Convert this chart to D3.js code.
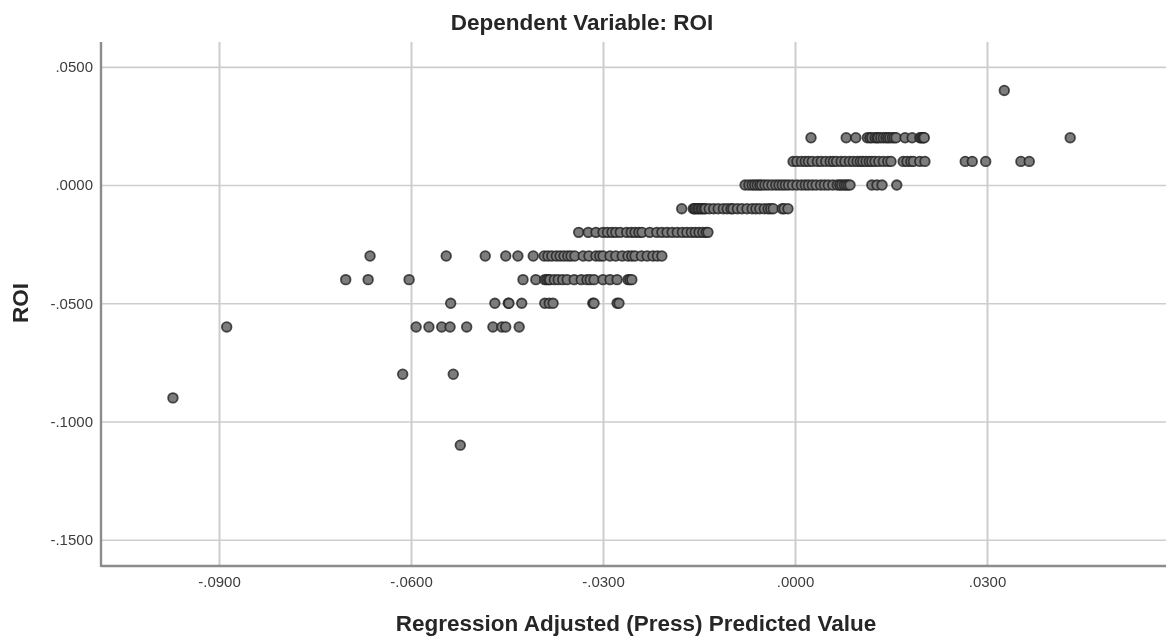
<!DOCTYPE html>
<html>
<head>
<meta charset="utf-8">
<script src="https://cdn.jsdelivr.net/npm/d3@7"></script>
<style>
    html, body { margin: 0; padding: 0; background: #fff; }
    svg { display: block; }
    text { font-family: "Liberation Sans", Arial, sans-serif; fill: #262626; }
</style>
</head>
<body>
<svg id="canvas" width="1166" height="637"></svg>
<script>
// predicted values (x), one list per observed ROI level
const roiLevels = [0.04, 0.02, 0.01, 0, -0.01, -0.02, -0.03, -0.04, -0.05, -0.06, -0.08, -0.09, -0.11];
const predPos04 = [0.0327];
const predPos02 = [0.0025, 0.0080, 0.0095, 0.0113, 0.0117, 0.0120, 0.0125, 0.0128, 0.0130, 0.0134, 0.0138, 0.0142, 0.0145, 0.0148, 0.0152, 0.0155, 0.0158, 0.0172, 0.0183, 0.0195, 0.0197, 0.0199, 0.0201, 0.0202, 0.0430];
const predPos01 = [-0.0003, 0.0003, 0.0010, 0.0016, 0.0021, 0.0027, 0.0035, 0.0041, 0.0048, 0.0055, 0.0060, 0.0065, 0.0072, 0.0078, 0.0085, 0.0091, 0.0097, 0.0102, 0.0106, 0.0111, 0.0116, 0.0120, 0.0125, 0.0131, 0.0138, 0.0145, 0.0150, 0.0169, 0.0175, 0.0181, 0.0185, 0.0195, 0.0203, 0.0266, 0.0277, 0.0298, 0.0353, 0.0366];
const predZero = [-0.0078, -0.0072, -0.0067, -0.0063, -0.0059, -0.0055, -0.0052, -0.0047, -0.0042, -0.0036, -0.0030, -0.0025, -0.0020, -0.0015, -0.0010, -0.0004, 0.0003, 0.0010, 0.0016, 0.0021, 0.0027, 0.0033, 0.0040, 0.0046, 0.0052, 0.0059, 0.0066, 0.0070, 0.0073, 0.0077, 0.0080, 0.0083, 0.0086, 0.0120, 0.0128, 0.0136, 0.0159];
const predNeg01 = [-0.0177, -0.0159, -0.0157, -0.0155, -0.0152, -0.0150, -0.0147, -0.0145, -0.0142, -0.0140, -0.0134, -0.0127, -0.0120, -0.0112, -0.0106, -0.0100, -0.0097, -0.0090, -0.0083, -0.0075, -0.0067, -0.0061, -0.0055, -0.0048, -0.0042, -0.0038, -0.0034, -0.0020, -0.0017, -0.0011];
const predNeg02 = [-0.0338, -0.0323, -0.0311, -0.0300, -0.0293, -0.0286, -0.0280, -0.0273, -0.0263, -0.0256, -0.0250, -0.0244, -0.0239, -0.0227, -0.0216, -0.0208, -0.0200, -0.0192, -0.0184, -0.0176, -0.0169, -0.0162, -0.0156, -0.0150, -0.0144, -0.0139, -0.0136];
const predNeg03 = [-0.0664, -0.0545, -0.0484, -0.0452, -0.0433, -0.0409, -0.0392, -0.0386, -0.0380, -0.0373, -0.0367, -0.0361, -0.0355, -0.0350, -0.0344, -0.0331, -0.0322, -0.0311, -0.0305, -0.0300, -0.0289, -0.0280, -0.0270, -0.0261, -0.0255, -0.0250, -0.0240, -0.0231, -0.0222, -0.0215, -0.0208];
const predNeg04 = [-0.0702, -0.0667, -0.0603, -0.0425, -0.0405, -0.0391, -0.0388, -0.0385, -0.0383, -0.0376, -0.0370, -0.0363, -0.0356, -0.0345, -0.0334, -0.0325, -0.0320, -0.0314, -0.0300, -0.0289, -0.0278, -0.0261, -0.0258, -0.0255];
const predNeg05 = [-0.0538, -0.0469, -0.0448, -0.0447, -0.0427, -0.0391, -0.0384, -0.0378, -0.0316, -0.0314, -0.0278, -0.0275];
const predNeg06 = [-0.0888, -0.0592, -0.0572, -0.0552, -0.0539, -0.0513, -0.0472, -0.0458, -0.0452, -0.0431];
const predNeg08 = [-0.0613, -0.0534];
const predNeg09 = [-0.0972];
const predNeg11 = [-0.0523];
const predByLevel = [predPos04, predPos02, predPos01, predZero, predNeg01, predNeg02, predNeg03, predNeg04, predNeg05, predNeg06, predNeg08, predNeg09, predNeg11];

const xTicks = [-0.09, -0.06, -0.03, 0, 0.03];
const yTicks = [0.05, 0, -0.05, -0.1, -0.15];
const titleText = "Dependent Variable: ROI";
const xLabel = "Regression Adjusted (Press) Predicted Value";
const yLabel = "ROI";

const svg = d3.select("#canvas");
const plotLeft = 101, plotRight = 1166, plotTop = 42, plotBottom = 566;

// slight softening, the reference is a rescaled screenshot
svg.append("defs").append("filter").attr("id", "soft")
    .append("feGaussianBlur").attr("stdDeviation", 0.6);

const xScale = d3.scaleLinear().domain([-0.10844, 0.05797]).range([plotLeft, plotRight]);
const yScale = d3.scaleLinear().domain([-0.1611, 0.0605]).range([plotBottom, plotTop]);

// ".0500" style labels, no leading zero
const tickFormat = (d) => d3.format(".4f")(d).replace("−", "-").replace("0.", ".");

const plot = svg.append("g").attr("filter", "url(#soft)");

// axes with full-length ticks as the grid
const xAxis = d3.axisBottom(xScale).tickValues(xTicks).tickSize(-(plotBottom - plotTop)).tickPadding(10).tickFormat(tickFormat);
const yAxis = d3.axisLeft(yScale).tickValues(yTicks).tickSize(-(plotRight - plotLeft)).tickPadding(8).tickFormat(tickFormat);

const xG = plot.append("g").attr("transform", `translate(0, ${plotBottom})`).call(xAxis);
const yG = plot.append("g").attr("transform", `translate(${plotLeft}, 0)`).call(yAxis);

xG.selectAll(".tick line").attr("stroke", "#cdcdcd").attr("stroke-width", 2);
yG.selectAll(".tick line").attr("stroke", "#cdcdcd").attr("stroke-width", 1.6);
[xG, yG].forEach((g) => {
    g.selectAll(".tick text").style("font-size", "15px").style("fill", "#3c3c3c");
    g.select(".domain").remove();
});

// axis lines on top of the grid
plot.append("line").attr("x1", plotLeft).attr("x2", plotLeft).attr("y1", plotTop).attr("y2", plotBottom + 1)
    .attr("stroke", "#8c8c8c").attr("stroke-width", 2.4);
plot.append("line").attr("x1", plotLeft).attr("x2", plotRight).attr("y1", plotBottom).attr("y2", plotBottom)
    .attr("stroke", "#8c8c8c").attr("stroke-width", 2.4);

// points
const points = roiLevels.flatMap((level, i) => predByLevel[i].map((pred) => ({ pred, level })));
plot.append("g")
    .selectAll("circle")
    .data(points)
    .enter()
    .append("circle")
    .attr("cx", (d) => xScale(d.pred))
    .attr("cy", (d) => yScale(d.level))
    .attr("r", 4.8)
    .attr("fill", "#7b7b7b")
    .attr("stroke", "#222")
    .attr("stroke-width", 1.8)
    .attr("stroke-opacity", 0.8);

// titles
plot.append("text").attr("x", 582).attr("y", 30).attr("text-anchor", "middle")
    .style("font-size", "22.5px").style("font-weight", "bold").text(titleText);
plot.append("text").attr("x", 636).attr("y", 631).attr("text-anchor", "middle")
    .style("font-size", "22.5px").style("font-weight", "bold").text(xLabel);
plot.append("text").attr("transform", "translate(28, 303) rotate(-90)").attr("text-anchor", "middle")
    .style("font-size", "22.5px").style("font-weight", "bold").text(yLabel);
</script>
</body>
</html>
